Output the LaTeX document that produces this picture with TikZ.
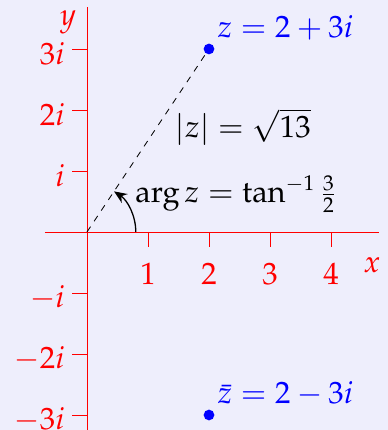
\documentclass[tikz,border=0pt]{standalone}
\usepackage{amsmath, amssymb}
\usepackage{mathpazo}
\usetikzlibrary{arrows.meta, positioning}
\definecolor{planebg}{RGB}{238, 238, 252}

\begin{document}
\begin{tikzpicture}[font=\Large,
    axis/.style={red},
    dot/.style={circle, fill=blue, inner sep=0pt, minimum size=5pt}]
            \fill[planebg] (-1.426,-3.246) rectangle (4.934,3.803);
            \useasboundingbox (-1.426,-3.246) rectangle (4.934,3.803);
            % axes
            \draw[axis] (-0.69,0) -- (4.79,0);
            \draw[axis] (0,-3.3) -- (0,3.69);
            \node[red] (xlab) at (4.67,-0.54) {$x$};
            \node[red] (ylab) at (-0.31,3.44) {$y$};
            \foreach \i in {1,...,4} {
                \draw[axis] (\i,0) -- (\i,-0.25);
                \node[red] (xt\i) at (\i,-0.69) {$\i$};
            }
            \foreach \k/\j/\name in {1/3/3i, 2/2/2i, 3/1/i, 4/-1/-i, 5/-2/-2i, 6/-3/-3i} {
                \draw[axis] (0,\j) -- (-0.25,\j);
                \node[red, anchor=east] (yt\k) at (-0.24,\j-0.08) {$\name$};
            }
            % the number and its conjugate
            \coordinate (O) at (0,0);
            \node[dot] (z) at (2,3) {};
            \node[dot] (zbar) at (2,-3) {};
            \node[blue, inner sep=2pt, above right=0pt of z] (zlab) {$z = 2 + 3i$};
            \node[blue, inner sep=2pt, above right=0pt of zbar] (zbarlab) {$\bar{z} = 2 - 3i$};
            \draw[dashed] (O) -- (z);
            \draw[semithick, -{Stealth[length=6pt, width=5pt]}] (0.8,0) arc (0:56.3:0.8);
            \node (modlab) at (2.56,1.72) {$|z| = \sqrt{13}$};
            \node[anchor=west] (arglab) at (0.67,0.62) {$\arg z = \tan^{-1}\frac{3}{2}$};
        \end{tikzpicture}
\end{document}
